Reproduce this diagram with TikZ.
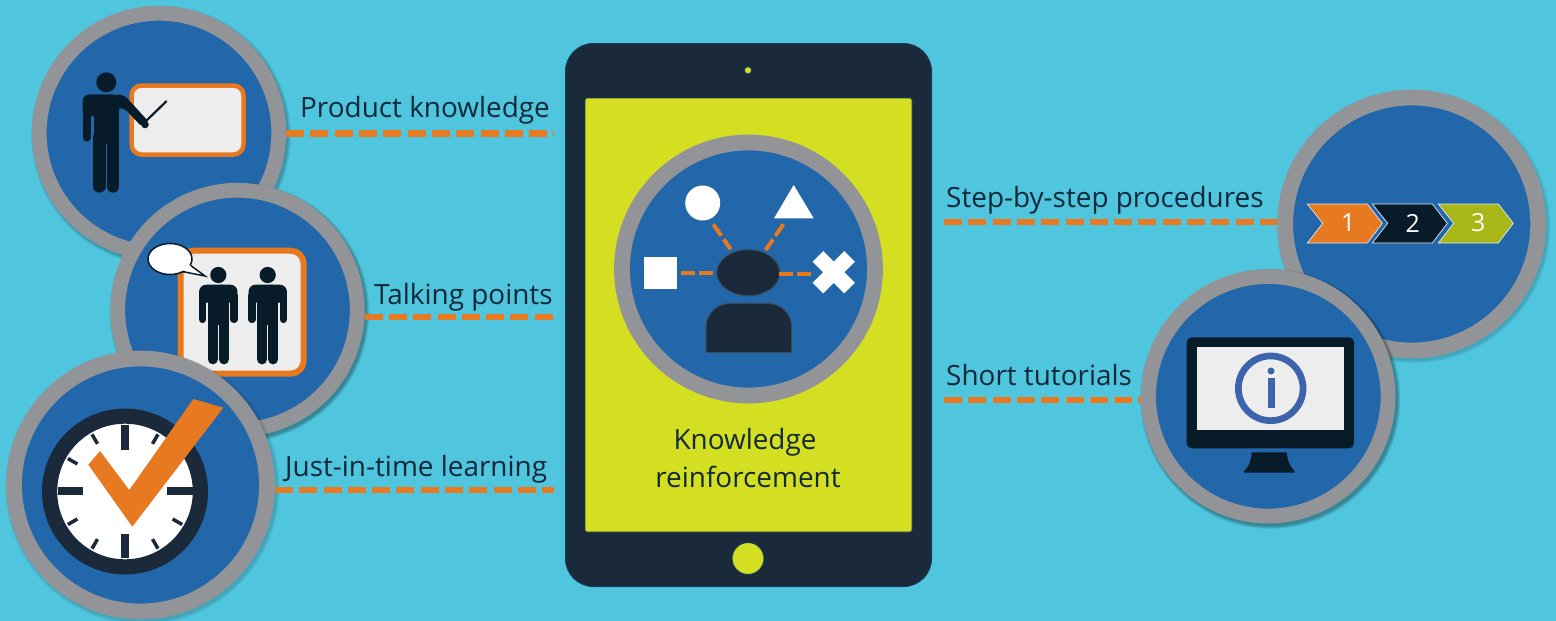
\documentclass[tikz,border=0pt]{standalone}
\usepackage{fontspec}
\usetikzlibrary{shapes.geometric,calc}
\setmainfont{Open Sans}
\definecolor{bgc}{HTML}{50C5DE}
\definecolor{ringc}{HTML}{929497}
\definecolor{discc}{HTML}{2267A9}
\definecolor{orangec}{HTML}{E77A20}
\definecolor{navyc}{HTML}{1A2A3A}
\definecolor{edgec}{HTML}{163A5C}
\definecolor{darkc}{HTML}{071C28}
\definecolor{limec}{HTML}{D5DF21}
\definecolor{paperc}{HTML}{EDEDED}
\definecolor{olivec}{HTML}{A8B618}
\definecolor{infoc}{HTML}{3B64AD}
\definecolor{textc}{HTML}{12293A}
\tikzset{
  x=1pt,y=-1pt,
  ringbig/.style={circle,draw=ringc,fill=discc,line width=15.8pt,inner sep=0pt,minimum size=253pt},
  ringsmall/.style={circle,draw=ringc,fill=discc,line width=14.8pt,inner sep=0pt,minimum size=239.5pt},
  dashline/.style={draw=orangec,line width=6.4pt,dash pattern=on 18pt off 6.3pt},
  minidash/.style={draw=orangec,line width=4pt,dash pattern=on 14pt off 4.3pt},
  caption/.style={font=\fontsize{27.9}{32}\selectfont,text=textc,inner sep=0pt,anchor=base west},
  board/.style={draw=orangec,fill=paperc,rounded corners=10pt},
  chev/.style={line width=0.7pt,draw=white!85!discc},
  num/.style={font=\fontsize{25}{30}\selectfont,text=white,inner sep=0pt},
}
\newcommand{\softshadow}[4]{%
  \foreach \d in {4,3,2,1,0}{\fill[black,opacity=#4] (#1+2,#2+2.5) circle[radius=#3+\d*0.7];}}
% head, torso, legs and left arm of a standing figure
\newcommand{\personcore}[3]{%
  \begin{scope}[shift={(#1,#2)},scale=#3]
    \fill[darkc] (0,0) circle[radius=10];
    \fill[darkc,rounded corners=7pt] (-23.7,34) -- (-23.7,12) -- (13,12) -- (13,34) -- cycle;
    \fill[darkc] (-12.8,20) rectangle (12.8,62);
    \draw[darkc,line width=#3*12.3pt,line cap=round] (-6.9,55) -- (-6.9,104.2) (6.9,55) -- (6.9,104.2);
    \draw[darkc,line width=#3*8.7pt,line cap=round] (-19.4,25) -- (-19.4,55);
  \end{scope}}
% the same figure with a hanging right arm as well
\newcommand{\personfull}[3]{%
  \personcore{#1}{#2}{#3}
  \begin{scope}[shift={(#1,#2)},scale=#3]
    \fill[darkc,rounded corners=7pt] (-5,34) -- (-5,12) -- (23.7,12) -- (23.7,34) -- cycle;
    \draw[darkc,line width=#3*8.7pt,line cap=round] (19.4,25) -- (19.4,55);
  \end{scope}}
\begin{document}
\begin{tikzpicture}
\useasboundingbox (0,0) rectangle (1556,621);
\fill[bgc] (0,0) rectangle (1556,621);

% tablet
\node[draw=edgec,line width=1pt,fill=navyc,rounded corners=28pt,minimum width=366pt,minimum height=543pt,inner sep=0pt] (tablet) at (748.5,315) {};
\node[draw=edgec,line width=0.7pt,fill=limec,minimum width=327pt,minimum height=434pt,inner sep=0pt,rounded corners=2pt] (screen) at (748.5,315) {};
\node[circle,fill=limec,draw=edgec,line width=1pt,minimum size=7.5pt,inner sep=0pt] (camera) at (748,70.3) {};
\node[circle,fill=limec,draw=edgec,line width=1pt,minimum size=32pt,inner sep=0pt] (homebtn) at (748,558.5) {};
\node[font=\fontsize{27.9}{32}\selectfont,text=textc,inner sep=0pt,anchor=base] (ktitle) at (745,449) {Knowledge};
\node[font=\fontsize{27.9}{32}\selectfont,text=textc,inner sep=0pt,anchor=base] (ktitleb) at (748,487) {reinforcement};

% centre disc
\node[ringbig] (c6) at (748.5,269) {};
\node[circle,fill=white,minimum size=35pt,inner sep=0pt] (sCircle) at (702.7,203) {};
\fill[white] (793.7,185) coordinate (sTri) -- (813.7,218.3) -- (774,218.3) -- cycle;
\node[fill=white,minimum size=32.5pt,inner sep=0pt] (sSquare) at (660.6,273.2) {};
\draw[white,line width=15pt] (817.9,256.5) -- (849.5,288.1) (849.5,256.5) -- (817.9,288.1);
\node[ellipse,draw=navyc!85!white,fill=navyc,line width=1pt,minimum width=63pt,minimum height=46pt,inner sep=0pt] (head) at (748.3,272.7) {};
\fill[navyc,draw=navyc!85!white,line width=1pt] (706,352.3) -- (706,328) .. controls (706,312) and (718,303.3) .. (732,303.3) -- (766,303.3) .. controls (780,303.3) and (791.7,312) .. (791.7,328) -- (791.7,352.3) -- cycle;
\coordinate (mdA) at (713.3,224.3); \coordinate (mdB) at (730.7,249.3);
\coordinate (mdC) at (783.3,224.3); \coordinate (mdD) at (765.7,250);
\coordinate (mdE) at (681,273.3); \coordinate (mdF) at (713.5,273.3);
\coordinate (mdG) at (779,274); \coordinate (mdH) at (811.7,274);
\draw[minidash] (mdA) -- (mdB);
\draw[minidash] (mdC) -- (mdD);
\draw[minidash] (mdE) -- (mdF);
\draw[minidash] (mdG) -- (mdH);

% circle 1
\softshadow{159}{133}{127}{0.05}
\node[ringsmall] (c1) at (159,133) {};
\draw[board,line width=4.5pt] (131.5,85.5) rectangle (243.5,154.5);
\personcore{106.3}{82.3}{1}
\fill[darkc,rounded corners=5pt] (112,94.3) -- (124,94.8) -- (149,122) -- (143,128) -- (124,108) -- (112,108) -- cycle;
\fill[darkc] (145,124.5) circle[radius=3.8];
\draw[darkc,line width=2.2pt] (145,122) -- (166.7,101);

% circle 2
\softshadow{237.5}{310}{127}{0.07}
\node[ringsmall] (c2) at (237.5,310) {};
\draw[board,line width=6pt,rounded corners=13pt] (180.7,250.7) rectangle (303.7,373.7);
\personfull{218.3}{275}{0.81}
\personfull{267.7}{275}{0.81}
\fill[white,draw=darkc,line width=1.5pt] (190,265) -- (205,276) -- (183.3,271.7) -- cycle;
\node[ellipse,fill=white,draw=darkc,line width=1.5pt,minimum width=44pt,minimum height=31pt,inner sep=0pt] (bubble) at (170,259) {};
\fill[white] (186,264) -- (191,266) -- (188,271) -- (181,270.5) -- cycle;

% circle 3
\softshadow{140.5}{485}{134.5}{0.03}
\node[ringbig] (c3) at (140.5,485) {};
\node[circle,draw=navyc,fill=white,line width=15.2pt,minimum size=150.8pt,inner sep=0pt] (clock) at (125,491.5) {};
\draw[navyc,line width=8pt] (125,425) -- (125,450) (125,534) -- (125,558) (58,490.7) -- (83,490.7) (167,490.7) -- (193,490.7);
\foreach \a in {30,60,120,150,210,240,300,330}{
  \draw[navyc,line width=3.5pt] ($(clock.center)+(\a:66)$) -- ($(clock.center)+(\a:55)$);
}
\fill[orangec] (193.3,399) -- (223.3,407.7) -- (132.3,526.7) -- (88.3,464.7) -- (100,451) -- (129.3,490) -- cycle;

% circle 4
\softshadow{1411.7}{224}{134}{0.03}
\node[ringbig] (c4) at (1411.7,224) {};
\fill[orangec,chev] (1307.3,204) -- (1367.3,204) -- (1382.3,223.3) -- (1367.3,243) -- (1307.3,243) -- (1322.7,223.3) -- cycle;
\fill[darkc,chev] (1372.3,204) -- (1432.3,204) -- (1447.3,223.3) -- (1432.3,243) -- (1372.3,243) -- (1387.7,223.3) -- cycle;
\fill[olivec,chev] (1438.3,204) -- (1498.3,204) -- (1513.3,223.3) -- (1498.3,243) -- (1438.3,243) -- (1453.7,223.3) -- cycle;
\node[num] (n1) at (1348.3,223) {1};
\node[num] (n2) at (1412.7,223) {2};
\node[num] (n3) at (1478.3,223) {3};

% circle 5
\softshadow{1268.3}{396.3}{127.3}{0.07}
\node[ringsmall] (c5) at (1268.3,396.3) {};
\fill[darkc,rounded corners=5pt] (1186.7,337.3) rectangle (1354,448.3);
\fill[paperc] (1197.3,347) rectangle (1344,430.3);
\node[circle,draw=infoc,line width=6.7pt,minimum size=64.7pt,inner sep=0pt] (info) at (1270.7,388.3) {};
\fill[infoc] (1271,371) circle[radius=3.5];
\fill[infoc] (1267.7,378.3) rectangle (1274.7,408.3);
\fill[darkc] (1251.7,452.3) -- (1286.7,452.3) .. controls (1287.5,462) and (1291,468) .. (1294.7,471) -- (1294.7,472.7) -- (1244,472.7) -- (1244,471) .. controls (1248,468) and (1251,462) .. (1251.7,452.3) -- cycle;

% connectors
\coordinate (endL) at ([xshift=-11pt]tablet.west);
\coordinate (endR) at ([xshift=12pt]tablet.east);
\coordinate (a1) at ([yshift=-0.5pt]c1.east);
\coordinate (a2) at ([yshift=-7pt]c2.east);
\coordinate (a3) at ([yshift=-5pt]c3.east);
\coordinate (a4) at ([yshift=2pt]c4.west);
\coordinate (a5) at ([yshift=-3.7pt]c5.west);
\draw[dashline] (a1) -- (a1 -| endL);
\draw[dashline] (a2) -- (a2 -| endL);
\draw[dashline] (a3) -- (a3 -| endL);
\draw[dashline] (a4 -| endR) -- (a4);
\draw[dashline] (a5 -| endR) -- (a5);

% captions
\node[caption] (t1) at (300,117) {Product knowledge};
\node[caption] (t2) at (374,304) {Talking points};
\node[caption] (t3) at (285,476) {Just-in-time learning};
\node[caption] (t4) at (946,207) {Step-by-step procedures};
\node[caption] (t5) at (946,385) {Short tutorials};
\end{tikzpicture}
\end{document}
